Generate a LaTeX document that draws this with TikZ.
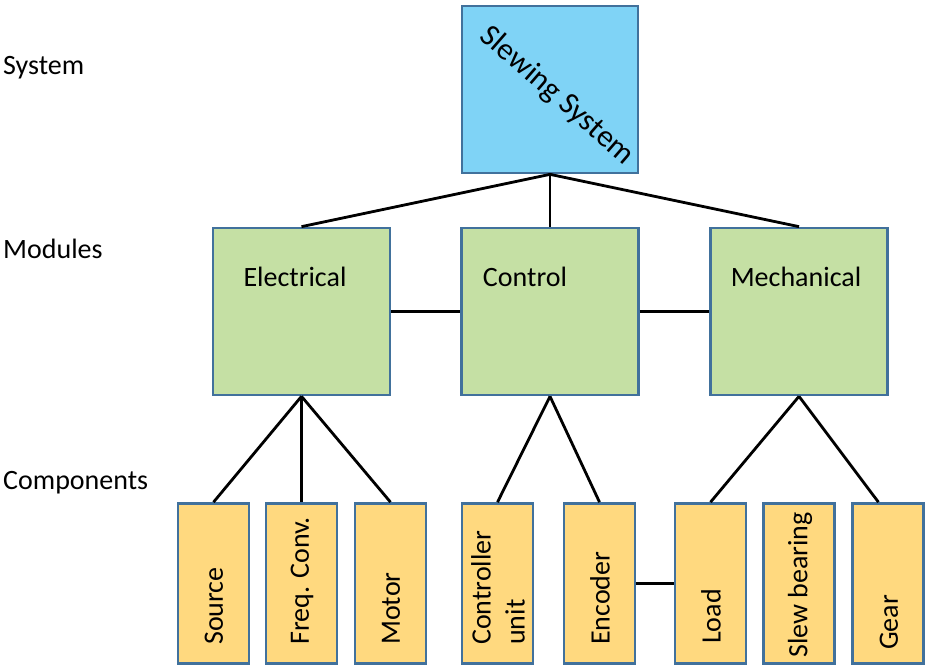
\documentclass[tikz,border=0pt]{standalone}
\usepackage{fontspec}
\setmainfont{Carlito}
\usetikzlibrary{calc}
\definecolor{boxline}{HTML}{41719C}
\definecolor{sysfill}{HTML}{7FD3F6}
\definecolor{modfill}{HTML}{C5E0A4}
\definecolor{compfill}{HTML}{FFD97F}
\tikzset{
  levelbox/.style={draw=boxline, line width=2.7pt, inner sep=0pt},
  sysbox/.style={levelbox, fill=sysfill, minimum width=176pt, minimum height=167pt},
  modbox/.style={levelbox, fill=modfill, minimum width=177pt, minimum height=167pt},
  compbox/.style={levelbox, fill=compfill, minimum width=71pt, minimum height=160pt},
  txt/.style={inner sep=0pt, font=\fontsize{28}{34}\selectfont},
  comptxt/.style={txt, rotate=90, anchor=west, align=left},
  link/.style={line width=2.8pt}
}
\begin{document}
\begin{tikzpicture}[x=1pt,y=-1pt]
\useasboundingbox (0,0) rectangle (925,666);
% levels
\node[txt, anchor=base west] (lsys) at (3,75) {System};
\node[txt, anchor=base west] (lmod) at (3,258) {Modules};
\node[txt, anchor=base west] (lcomp) at (3,489) {Components};
% system
\node[sysbox] (slew) at (550,89.5) {};
\node[txt, rotate=-41, font=\fontsize{31}{36}\selectfont] (slewtxt) at (557,96) {Slewing System};
% modules
\node[modbox] (elec) at (301.5,311.5) {};
\node[modbox] (ctrl) at (550,311.5) {};
\node[modbox] (mech) at (799,311.5) {};
\node[txt, anchor=base] (electxt) at (295,286) {Electrical};
\node[txt, anchor=base] (ctrltxt) at (525,286) {Control};
\node[txt, anchor=base] (mechtxt) at (796,286) {Mechanical};
% components
\node[compbox] (src) at (213.5,583.5) {};
\node[compbox] (freq) at (301.5,583.5) {};
\node[compbox] (motor) at (390.5,583.5) {};
\node[compbox] (cunit) at (497.5,583.5) {};
\node[compbox] (enc) at (599.5,583.5) {};
\node[compbox] (load) at (710.5,583.5) {};
\node[compbox] (bear) at (799,583.5) {};
\node[compbox] (gear) at (888,583.5) {};
\node[comptxt] (srctxt) at (214,645) {Source};
\node[comptxt] (freqtxt) at (302,645) {Freq. Conv.};
\node[comptxt] (motortxt) at (391,645) {Motor};
\node[comptxt] (cunittxt) at (498,645) {Controller\\unit};
\node[comptxt] (enctxt) at (600,645) {Encoder};
\node[comptxt] (loadtxt) at (711,644) {Load};
\node[comptxt] (beartxt) at (800,658) {Slew bearing};
\node[comptxt] (geartxt) at (889,650) {Gear};
% links
\draw[link] (slew.south) -- (elec.north);
\draw[link] (slew.south) -- (ctrl.north);
\draw[link] (slew.south) -- (mech.north);
\draw[link] (elec.east) -- (ctrl.west);
\draw[link] (ctrl.east) -- (mech.west);
\draw[link] (elec.south) -- (src.north);
\draw[link] (elec.south) -- (freq.north);
\draw[link] (elec.south) -- (motor.north);
\draw[link] (ctrl.south) -- (cunit.north);
\draw[link] (ctrl.south) -- (enc.north);
\draw[link] (mech.south) -- (load.north);
\draw[link] (mech.south) -- ($(gear.north west)!0.37!(gear.north east)$);
\draw[link] (enc.east) -- (load.west);
\end{tikzpicture}
\end{document}
